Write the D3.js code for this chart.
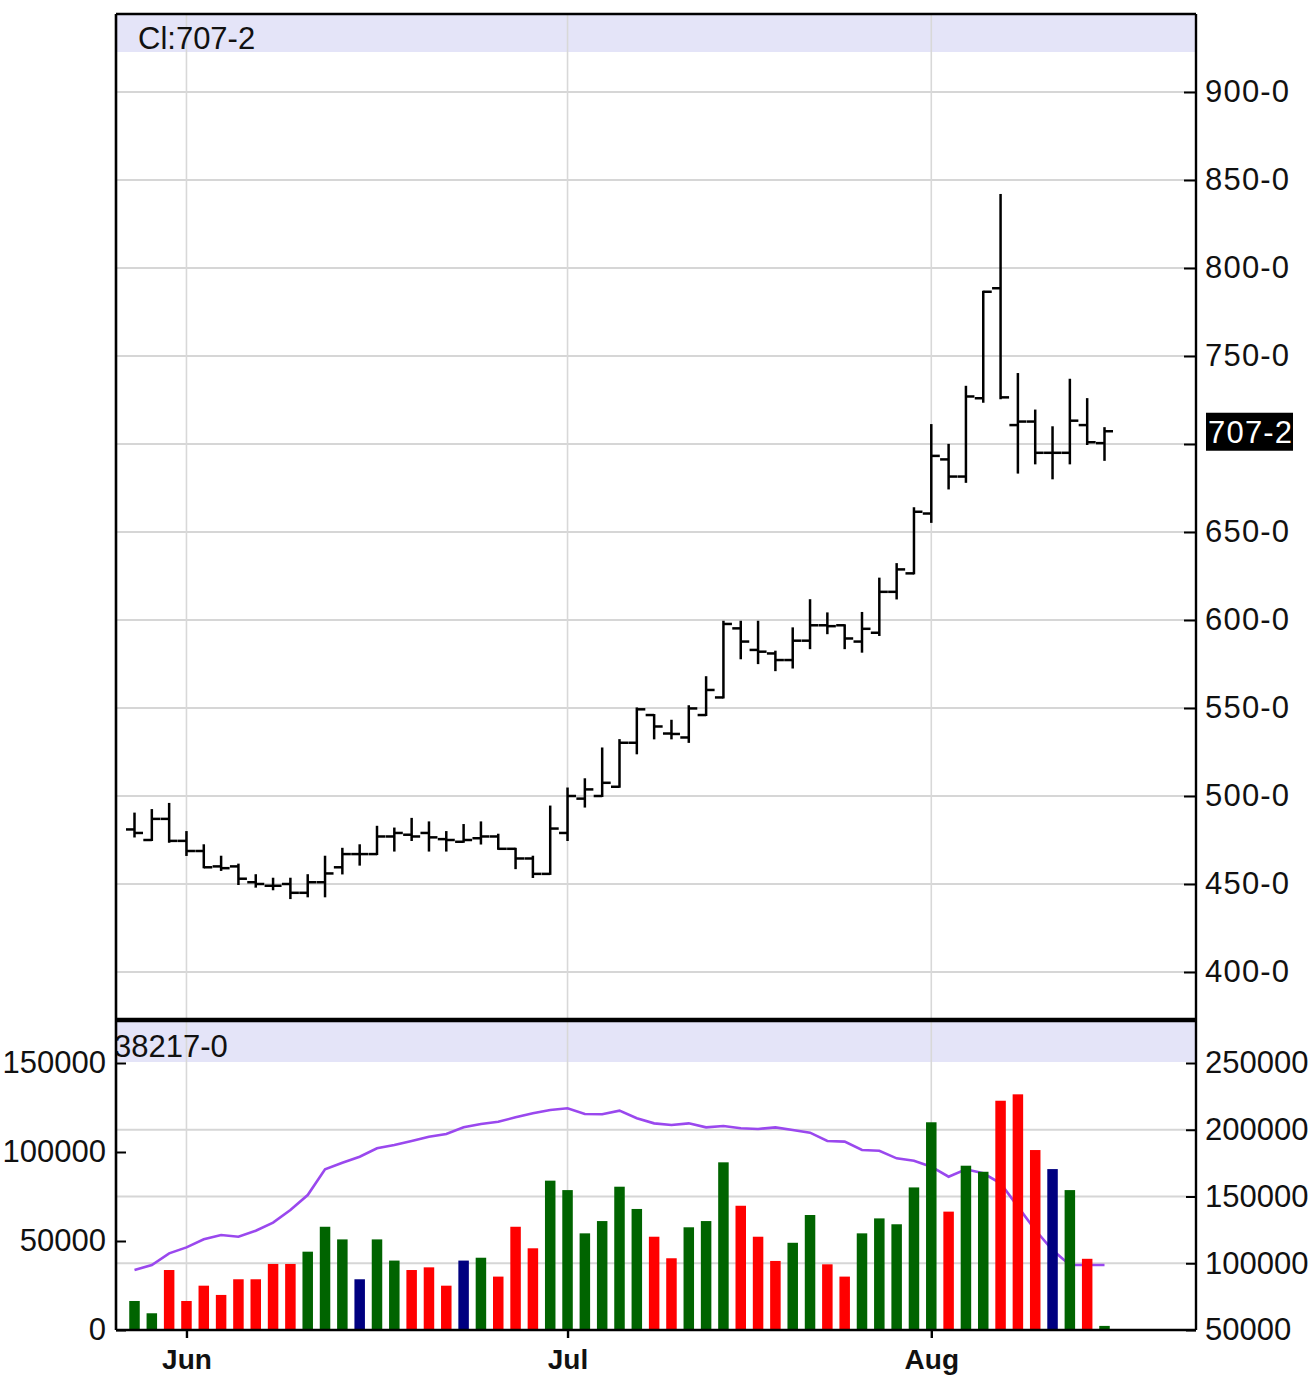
<!DOCTYPE html>
<html><head><meta charset="utf-8">
<script src="https://cdn.jsdelivr.net/npm/d3@7"></script>
<style>
body{margin:0;background:#fff}
svg{display:block}
text{font-family:"Liberation Sans",Arial,sans-serif}
</style>
</head><body>
<svg id="c" width="1316" height="1383"></svg>
<script>
// ---------- DATA ----------
const dates = [
 "2010-05-26","2010-05-27","2010-05-28",
 "2010-06-01","2010-06-02","2010-06-03","2010-06-04","2010-06-07","2010-06-08","2010-06-09","2010-06-10","2010-06-11",
 "2010-06-14","2010-06-15","2010-06-16","2010-06-17","2010-06-18","2010-06-21","2010-06-22","2010-06-23","2010-06-24","2010-06-25",
 "2010-06-28","2010-06-29","2010-06-30",
 "2010-07-01","2010-07-02","2010-07-06","2010-07-07","2010-07-08","2010-07-09","2010-07-12","2010-07-13","2010-07-14","2010-07-15",
 "2010-07-16","2010-07-19","2010-07-20","2010-07-21","2010-07-22","2010-07-23","2010-07-26","2010-07-27","2010-07-28","2010-07-29","2010-07-30",
 "2010-08-02","2010-08-03","2010-08-04","2010-08-05","2010-08-06","2010-08-09","2010-08-10","2010-08-11","2010-08-12","2010-08-13","2010-08-16"
];
const openP  = [481,475,487,474.5,468.75,460,460,451,449,450,445,451,459.5,467,467,477,478,479,475.5,474,476,477,470,464.5,455.75,
  479,498.5,500,505.25,530.25,546,535.5,533.25,546,556,595.25,583,581,577.25,588.25,597,597,587.75,592.75,616,626.5,
  660.5,691.25,681.5,726,788.5,710.75,712.75,695,695,710.75,700.5];
const highP  = [490,492,495.5,479.5,472,465.5,461,455,453,453,455,465.5,470,472,482.5,481.5,487,485,479.5,483.5,485,478,470,465.5,494,
  504.25,509.5,527,531.75,549.75,546,542.75,551,567.5,599,599,599,582,595.25,611.25,603.75,597,604,623.5,631.75,663.5,
  710.75,699.5,732.5,786.5,841.5,739.75,719,709.5,736.5,725.5,709];
const lowP   = [477,475,474,466.5,459.5,458,450,448.5,447,442,443,443,456,461,467,469,475,469,469,474,473,470,459,454,455.75,
  475,494,500,505.25,524.25,532.75,532.75,530.75,546,556,578.25,575.5,571.5,573,584,592.5,584,582,591.5,612.25,626.5,
  655.75,674.75,678.5,724,726,683.75,689,680.5,689,700,691];
const closeP = [479,487,474.5,468.75,459.5,459,453,450,449,445,451,456,467,467,477,479,477,476.5,475,475,477,470,464.5,455.75,481.5,
  500,503.75,507.5,530.25,549.25,539.5,535.25,549.75,560.25,597.75,587.75,582,577.25,588.25,597,596.5,589.5,595,616,628.75,661.5,
  693.25,681.5,727,786.5,726.5,712.75,695,695,713.25,701,707.25];
const volume = [16300,9400,33700,16300,24900,19700,28500,28500,37100,37100,44000,58000,50900,28500,50900,39000,33700,35200,24900,39000,40600,30000,58000,45900,83900,
  78600,54300,61200,80500,68000,52400,40300,57700,61200,94200,69800,52400,38800,49000,64600,36900,30000,54300,62700,59400,80100,
  116700,66500,92300,88900,128800,132400,101100,90400,78600,40000,2300];
const volumeDir = ["up","up","down","down","down","down","down","down","down","down","up","up","up","flat","up","up","down","down","down","flat","up","down","down","down","up",
  "up","up","up","up","up","down","down","up","up","up","down","down","down","up","up","down","down","up","up","up","up",
  "up","down","up","up","down","down","down","flat","up","down","up"];
const openInterest = [94900,98700,107400,111900,117900,121200,119900,124400,130400,139900,151100,170400,175300,179800,186100,188600,191600,194800,196800,201800,204300,206000,209300,212300,214800,
  216100,211800,211600,214300,208600,204800,203600,204800,201800,202800,201100,200600,201800,199800,197800,191600,191100,184800,184300,178600,176800,
  172300,164800,170400,167400,159900,142400,124900,109900,98700,98700,98700];
const priceTicks = [400,450,500,550,600,650,700,750,800,850,900];
const priceTickLabels = ["400-0","450-0","500-0","550-0","600-0","650-0","700-0","750-0","800-0","850-0","900-0"];
const volLeftTicks = [0,50000,100000,150000];
const volRightTicks = [50000,100000,150000,200000,250000];
const monthTicks = ["2010-06-01","2010-07-01","2010-08-02"];
const monthLabels = ["Jun","Jul","Aug"];
const lastPrice = 707.25;
const lastPriceLabel = "707-2";
const priceHeader = "Cl:707-2";
const volumeHeader = "38217-0";

// ---------- LAYOUT ----------
const L = 116, R = 1196, PT = 14, PB = 1020, VT = 1020, VB = 1330;
const svg = d3.select("#c");
const dirColor = {up:"#006400", down:"#ff0000", flat:"#000080"};
const grid = "#d6d6d6";
const FONT = "Liberation Sans, Arial, sans-serif";

const x = d3.scalePoint().domain(dates).range([134.5, 1104.5]);
const yP = d3.scaleLinear().domain([400, 900]).range([972, 92]);
const yVL = d3.scaleLinear().domain([0, 150000]).range([VB, 1063]);
const yVR = d3.scaleLinear().domain([50000, 250000]).range([VB, 1063]);

const defs = svg.append("defs");
defs.append("clipPath").attr("id","clipP").append("rect").attr("x",L).attr("y",PT).attr("width",R-L).attr("height",PB-PT);
defs.append("clipPath").attr("id","clipV").append("rect").attr("x",L).attr("y",VT).attr("width",R-L).attr("height",VB-VT);

// header bands
svg.append("rect").attr("x",L).attr("y",PT).attr("width",R-L).attr("height",38).attr("fill","#e4e4f8");
svg.append("rect").attr("x",L).attr("y",VT).attr("width",R-L).attr("height",42).attr("fill","#e4e4f8");

// price gridlines
svg.append("g").selectAll("line").data(priceTicks).join("line")
  .attr("x1",L).attr("x2",R).attr("y1",d=>yP(d)).attr("y2",d=>yP(d))
  .attr("stroke",grid).attr("stroke-width",2);
// volume gridlines (right scale)
svg.append("g").selectAll("line").data(volRightTicks.filter(v=>v>50000 && v<250000)).join("line")
  .attr("x1",L).attr("x2",R).attr("y1",d=>yVR(d)).attr("y2",d=>yVR(d))
  .attr("stroke",grid).attr("stroke-width",2);
// month gridlines
svg.append("g").selectAll("line").data(monthTicks).join("line")
  .attr("x1",d=>x(d)).attr("x2",d=>x(d)).attr("y1",PT).attr("y2",VB)
  .attr("stroke","#d8d8d8").attr("stroke-width",1.6);

// headers text
svg.append("text").attr("x",138).attr("y",38).attr("dy","0.35em").attr("font-size",31).attr("fill","#111").text(priceHeader);
svg.append("g").attr("clip-path","url(#clipV)")
  .append("text").attr("x",114).attr("y",1046).attr("dy","0.35em").attr("font-size",31).attr("fill","#111").text(volumeHeader);

// OHLC bars
const tk = 8.5;
const gP = svg.append("g").attr("clip-path","url(#clipP)").attr("stroke","#000").attr("stroke-width",2.5).attr("fill","none");
const bars = gP.selectAll("g").data(dates.map((d,i)=>({d,o:openP[i],h:highP[i],l:lowP[i],c:closeP[i]}))).join("g");
bars.append("line").attr("x1",b=>x(b.d)).attr("x2",b=>x(b.d)).attr("y1",b=>yP(b.h)-1).attr("y2",b=>yP(b.l)+1);
bars.append("line").attr("x1",b=>x(b.d)-tk).attr("x2",b=>x(b.d)).attr("y1",b=>yP(b.o)).attr("y2",b=>yP(b.o));
bars.append("line").attr("x1",b=>x(b.d)).attr("x2",b=>x(b.d)+tk).attr("y1",b=>yP(b.c)).attr("y2",b=>yP(b.c));

// volume panel
const gV = svg.append("g").attr("clip-path","url(#clipV)");
gV.append("path").datum(openInterest)
  .attr("d", d3.line().x((v,i)=>x(dates[i])).y(v=>yVR(v)))
  .attr("fill","none").attr("stroke","#9a48ee").attr("stroke-width",2.6);
gV.selectAll("rect.v").data(volume).join("rect").attr("class","v")
  .attr("x",(v,i)=>x(dates[i])-5.25).attr("width",10.5)
  .attr("y",v=>yVL(v)).attr("height",v=>VB-yVL(v))
  .attr("fill",(v,i)=>dirColor[volumeDir[i]]);

// borders
svg.append("line").attr("x1",L).attr("x2",R).attr("y1",PT).attr("y2",PT).attr("stroke","#000").attr("stroke-width",2.4);
svg.append("line").attr("x1",L).attr("x2",L).attr("y1",PT).attr("y2",VB).attr("stroke","#000").attr("stroke-width",2.6);
svg.append("line").attr("x1",R).attr("x2",R).attr("y1",PT).attr("y2",VB).attr("stroke","#000").attr("stroke-width",2.4);
svg.append("line").attr("x1",L).attr("x2",R).attr("y1",PB).attr("y2",PB).attr("stroke","#000").attr("stroke-width",4.5);
svg.append("line").attr("x1",L).attr("x2",R).attr("y1",VB).attr("y2",VB).attr("stroke","#000").attr("stroke-width",2.6);

// axes
const fmtP = d3.scaleOrdinal().domain(priceTicks).range(priceTickLabels);
const axP = svg.append("g").attr("transform",`translate(${R},0)`)
  .call(d3.axisRight(yP).tickValues(priceTicks).tickFormat(fmtP).tickSize(-12).tickPadding(9));
axP.select(".domain").remove();
axP.selectAll(".tick line").attr("stroke","#000").attr("stroke-width",2);
axP.selectAll(".tick text").attr("font-size",31).attr("fill","#111").attr("font-family",FONT).attr("letter-spacing",1.2)
  .style("display",d=>Math.abs(yP(d)-yP(lastPrice))<24?"none":null);

const axVL = svg.append("g").attr("transform",`translate(${L},0)`)
  .call(d3.axisLeft(yVL).tickValues(volLeftTicks).tickFormat(d3.format("d")).tickSize(-10).tickPadding(10));
axVL.select(".domain").remove();
axVL.selectAll(".tick line").attr("stroke","#000").attr("stroke-width",2);
axVL.selectAll(".tick text").attr("font-size",31).attr("fill","#111").attr("font-family",FONT);

const axVR = svg.append("g").attr("transform",`translate(${R},0)`)
  .call(d3.axisRight(yVR).tickValues(volRightTicks).tickFormat(d3.format("d")).tickSize(-10).tickPadding(9));
axVR.select(".domain").remove();
axVR.selectAll(".tick line").attr("stroke","#000").attr("stroke-width",2);
axVR.selectAll(".tick text").attr("font-size",31).attr("fill","#111").attr("font-family",FONT);

const fmtM = d3.scaleOrdinal().domain(monthTicks).range(monthLabels);
const axM = svg.append("g").attr("transform",`translate(0,${VB})`)
  .call(d3.axisBottom(x).tickValues(monthTicks).tickFormat(fmtM).tickSize(8).tickPadding(11));
axM.select(".domain").remove();
axM.selectAll(".tick line").attr("stroke","#000").attr("stroke-width",2.4);
axM.selectAll(".tick text").attr("font-size",28).attr("font-weight","bold").attr("fill","#111").attr("font-family",FONT);

// last price marker
const ly = yP(lastPrice);
svg.append("rect").attr("x",1206).attr("y",ly-18.5).attr("width",87).attr("height",38).attr("fill","#000");
svg.append("text").attr("x",1208).attr("y",ly+1).attr("dy","0.35em").attr("font-size",31).attr("letter-spacing",1.2).attr("fill","#fff").text(lastPriceLabel);
</script>
</body></html>
